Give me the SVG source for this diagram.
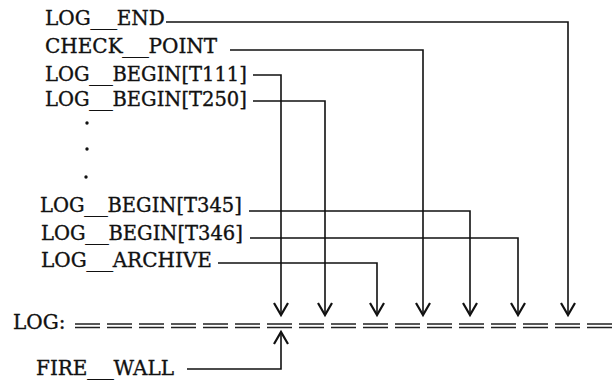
<svg xmlns="http://www.w3.org/2000/svg" width="612" height="380" viewBox="0 0 612 380">
<style>
text { font-family: "DejaVu Serif", "Liberation Serif", serif; font-size: 20px; fill: #111; stroke: #111; stroke-width: 0.35; }
text.b { font-size: 19.5px; }
.arr { fill: none; stroke: #111; stroke-width: 1.6; marker-end: url(#ah); }
.dbl { fill: none; stroke: #222; stroke-width: 1.4; stroke-dasharray: 25 7; }
</style>
<defs>
<marker id="ah" markerUnits="userSpaceOnUse" viewBox="-14 -9 16 18" refX="0" refY="0" markerWidth="16" markerHeight="18" orient="auto" overflow="visible">
<path d="M-12,-7 L0,0 L-12,7" fill="none" stroke="#111" stroke-width="2.2"/>
</marker>
</defs>
<rect width="612" height="380" fill="#fff"/>

<g id="log_end"><text x="45" y="25">LOG<tspan textLength="26" lengthAdjust="spacingAndGlyphs">_</tspan>END</text></g>
<g id="check_point"><text x="45" y="53">CHECK<tspan textLength="26" lengthAdjust="spacingAndGlyphs">_</tspan>POINT</text></g>
<g id="log_begin_t111"><text class="b" x="45" y="81">LOG<tspan textLength="23" lengthAdjust="spacingAndGlyphs">_</tspan>BEGIN[T111]</text></g>
<g id="log_begin_t250"><text class="b" x="45" y="106">LOG<tspan textLength="23" lengthAdjust="spacingAndGlyphs">_</tspan>BEGIN[T250]</text></g>
<g id="ellipsis">
<circle cx="87" cy="123" r="1.7" fill="#111"/>
<circle cx="87" cy="149" r="1.7" fill="#111"/>
<circle cx="86" cy="177" r="1.7" fill="#111"/>
</g>
<g id="log_begin_t345"><text class="b" x="40" y="212">LOG<tspan textLength="23" lengthAdjust="spacingAndGlyphs">_</tspan>BEGIN[T345]</text></g>
<g id="log_begin_t346"><text class="b" x="41" y="240">LOG<tspan textLength="23" lengthAdjust="spacingAndGlyphs">_</tspan>BEGIN[T346]</text></g>
<g id="log_archive"><text x="41" y="267">LOG<tspan textLength="26" lengthAdjust="spacingAndGlyphs">_</tspan>ARCHIVE</text></g>
<g id="log">
<text x="13" y="329">LOG:</text>
<line class="dbl" x1="75" y1="324" x2="612" y2="324"/>
<line class="dbl" x1="75" y1="327.5" x2="612" y2="327.5"/>
</g>
<g id="fire_wall"><text x="36" y="375">FIRE<tspan textLength="26" lengthAdjust="spacingAndGlyphs">_</tspan>WALL</text></g>

<g id="connectors">
<path class="arr" d="M166,22 H568 V315"/>
<path class="arr" d="M230,50 H423 V315"/>
<path class="arr" d="M253,75 H281 V315"/>
<path class="arr" d="M253,101 H325 V315"/>
<path class="arr" d="M249,211 H470 V315"/>
<path class="arr" d="M250,238 H518 V315"/>
<path class="arr" d="M218,263 H377 V315"/>
<path class="arr" d="M187,369 H281 V332"/>
</g>
</svg>
